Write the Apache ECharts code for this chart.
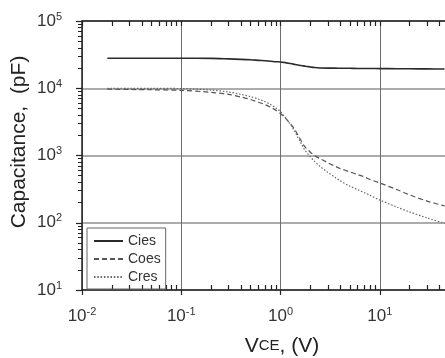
<!DOCTYPE html>
<html>
<head>
<meta charset="utf-8">
<script src="https://cdn.jsdelivr.net/npm/echarts@6/dist/echarts.min.js"></script>
<style>html,body{margin:0;padding:0;background:#fff;overflow:hidden;width:445px;height:358px;}#c{width:479px;height:358px;}</style>
</head>
<body>
<div id="c"></div>
<script>
// V_CE values (V)
var vce = [0.018, 0.03, 0.05, 0.1, 0.2, 0.3, 0.4, 0.5, 0.6, 0.7, 0.8, 0.9, 1.0, 1.1, 1.2, 1.3, 1.4, 1.5, 1.6, 1.7, 1.8, 2.0, 2.2, 2.5, 3.0, 3.5, 4.0, 5.0, 6.0, 7.0, 8.0, 10, 15, 20, 30, 45];
// Capacitances (pF)
var cies = [28000, 28000, 28000, 28000, 27800, 27300, 26900, 26500, 26000, 25600, 25200, 24800, 24600, 24100, 23600, 23100, 22600, 22200, 21800, 21500, 21200, 20700, 20300, 20000, 19900, 19900, 19850, 19800, 19700, 19700, 19650, 19600, 19500, 19450, 19400, 19300];
var coes = [9700, 9600, 9500, 9300, 8700, 8100, 7400, 6800, 6200, 5700, 5200, 4700, 4200, 3700, 3200, 2800, 2400, 2000, 1700, 1450, 1300, 1120, 1000, 900, 780, 700, 640, 570, 520, 480, 440, 390, 310, 260, 210, 178];
var cres = [10000, 10000, 9950, 9900, 9400, 8800, 8100, 7500, 6900, 6300, 5700, 5100, 4500, 3800, 3200, 2700, 2250, 1850, 1550, 1300, 1150, 950, 820, 690, 560, 480, 420, 350, 310, 280, 255, 218, 170, 145, 118, 98];
var seriesNames = ['Cies', 'Coes', 'Cres'];
var xTitle = 'V';
var xTitleSub = 'CE';
var xTitleTail = ', (V)';
var yTitle = 'Capacitance,  (pF)';

function pairs(xs, ys) { return xs.map(function (x, i) { return [x, ys[i]]; }); }
function supLabel(v) {
  var e = Math.round(Math.log10(v));
  return '{b|10}{s|' + e + '}';
}
var labelRich = {
  b: { fontSize: 17, fontFamily: 'Liberation Sans, Arial', color: '#333', lineHeight: 20 },
  s: { fontSize: 11, fontFamily: 'Liberation Sans, Arial', color: '#333', verticalAlign: 'top', lineHeight: 12 }
};

var chart = echarts.init(document.getElementById('c'), null, { renderer: 'canvas' });
chart.setOption({
  animation: false,
  backgroundColor: '#fff',
  grid: { left: 82, right: 0, top: 21, bottom: 68, containLabel: false },
  legend: {
    orient: 'vertical', left: 87, top: 228,
    padding: [6, 5, 5, 6], itemGap: 4, itemWidth: 29, itemHeight: 13,
    borderColor: '#666', borderWidth: 1,
    itemStyle: { color: 'transparent', borderColor: 'transparent', borderWidth: 0, opacity: 0 },
    textStyle: { fontSize: 14, fontFamily: 'Liberation Sans, Arial', color: '#333' },
    data: seriesNames
  },
  xAxis: [{
    type: 'log', logBase: 10, min: 0.01, max: 100, position: 'bottom',
    axisLine: { lineStyle: { color: '#222', width: 1.5 } },
    axisTick: { show: true, inside: false, length: 5, lineStyle: { color: '#222', width: 1.2 } },
    minorTick: { show: true, splitNumber: 9, length: -5, lineStyle: { color: '#222', width: 1.2 } },
    axisLabel: { formatter: supLabel, rich: labelRich, margin: 16, showMaxLabel: false },
    splitLine: { show: true, lineStyle: { color: '#6e6e6e', width: 1 } }
  }, {
    type: 'log', logBase: 10, min: 0.01, max: 100, position: 'top',
    axisLine: { lineStyle: { color: '#222', width: 1.5 } },
    axisTick: { show: true, inside: true, length: 5, lineStyle: { color: '#222', width: 1.2 } },
    minorTick: { show: true, splitNumber: 9, length: 5, lineStyle: { color: '#222', width: 1.2 } },
    axisLabel: { show: false },
    splitLine: { show: false }
  }],
  yAxis: {
    type: 'log', logBase: 10, min: 10, max: 100000,
    axisLine: { show: true, lineStyle: { color: '#222', width: 1.5 } },
    axisTick: { show: true, inside: false, length: 6, lineStyle: { color: '#222', width: 1.2 } },
    minorTick: { show: true, splitNumber: 9, length: 4, lineStyle: { color: '#222', width: 1 } },
    axisLabel: { formatter: supLabel, rich: labelRich, margin: 20 },
    splitLine: { show: true, lineStyle: { color: '#909090', width: 1.5 } }
  },
  graphic: [{
    type: 'text', x: 19, y: 142, rotation: Math.PI / 2,
    style: { text: yTitle, font: '21px "Liberation Sans", Arial', fill: '#222', align: 'center', verticalAlign: 'middle' }
  }, {
    type: 'text', x: 282, y: 346,
    style: {
      text: '{v|' + xTitle + '}{s|' + xTitleSub + '}{v|' + xTitleTail + '}',
      align: 'center', verticalAlign: 'middle',
      rich: {
        v: { fontSize: 21, fontFamily: 'Liberation Sans, Arial', fill: '#222', color: '#222' },
        s: { fontSize: 15, fontFamily: 'Liberation Sans, Arial', fill: '#222', color: '#222' }
      }
    }
  }],
  series: [{
    name: seriesNames[0], type: 'line', showSymbol: false, symbol: 'none', smooth: 0.3,
    data: pairs(vce, cies), lineStyle: { color: '#2a2a2a', width: 1.6, type: 'solid' }, itemStyle: { color: '#2a2a2a' }
  }, {
    name: seriesNames[1], type: 'line', showSymbol: false, symbol: 'none', smooth: 0.3,
    data: pairs(vce, coes), lineStyle: { color: '#555', width: 1.2, type: [5, 3] }, itemStyle: { color: '#555' }
  }, {
    name: seriesNames[2], type: 'line', showSymbol: false, symbol: 'none', smooth: 0.3,
    data: pairs(vce, cres), lineStyle: { color: '#666', width: 1.2, type: [1.5, 1.8] }, itemStyle: { color: '#666' }
  }]
});
</script>
</body>
</html>
